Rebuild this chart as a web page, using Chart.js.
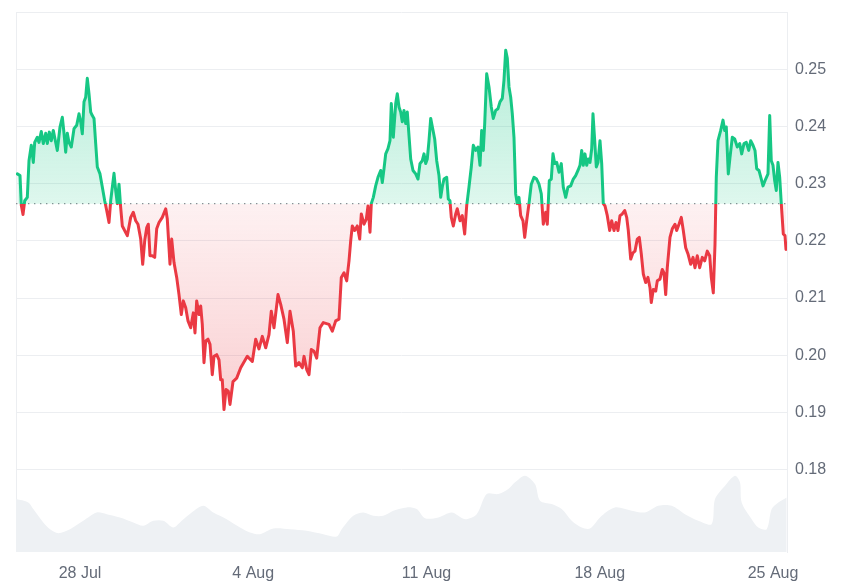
<!DOCTYPE html>
<html>
<head>
<meta charset="utf-8">
<script src="https://cdn.jsdelivr.net/npm/chart.js@4.4.1/dist/chart.umd.min.js"></script>
<style>
  html, body { margin: 0; padding: 0; background: #fff; }
  #wrap { width: 850px; height: 584px; position: relative; }
</style>
</head>
<body>
<div id="wrap"><canvas id="priceChart"></canvas></div>
<script>
// days counted from 28 Jul 00:00
const priceTimes = [
  -2.533, -2.424, -2.372, -2.303, -2.234, -2.129, -2.061, -1.968, -1.887, -1.830, -1.725, -1.657, -1.564, -1.483, -1.386, -1.321, -1.240, -1.160, -1.079, -0.982, -0.917, -0.808, -0.715, -0.646, -0.578, -0.513, -0.444, -0.352, -0.242, -0.133, -0.040, 0.028, 0.093, 0.162, 0.230, 0.295, 0.364, 0.432, 0.497, 0.566, 0.634, 0.699, 0.808, 0.901, 0.998, 1.079, 1.172, 1.240, 1.374, 1.442, 1.507, 1.576, 1.644, 1.709,
  1.911, 2.048, 2.154, 2.251, 2.343, 2.453, 2.533, 2.614, 2.695, 2.760, 2.828, 2.921, 3.018, 3.099, 3.192, 3.325, 3.463, 3.527, 3.636, 3.705, 3.798, 3.907, 4.000, 4.093, 4.174, 4.271, 4.364, 4.473, 4.578, 4.646, 4.715, 4.808, 4.877, 4.941, 5.010, 5.079, 5.172, 5.253, 5.345, 5.414, 5.523, 5.616, 5.685, 5.749, 5.818, 5.899, 5.992, 6.061, 6.182, 6.331,
  6.493, 6.760, 6.962, 7.099, 7.232, 7.366, 7.503, 7.636, 7.729, 7.838, 8.000, 8.109, 8.242, 8.376, 8.485, 8.618, 8.715, 8.848, 8.982, 9.051, 9.160, 9.253, 9.346, 9.455, 9.564, 9.697, 9.830, 10.061, 10.194, 10.331, 10.465, 10.558, 10.667,
  10.776, 10.869, 10.937, 11.002, 11.099, 11.204, 11.301, 11.366, 11.475, 11.568, 11.636, 11.717, 11.770, 11.851, 11.947, 12.040, 12.149, 12.214, 12.283, 12.352, 12.444, 12.525, 12.578, 12.659, 12.756, 12.820, 12.889, 12.958, 13.022, 13.091, 13.160, 13.224, 13.293, 13.362, 13.455, 13.564, 13.657, 13.737, 13.830, 13.899, 13.968, 14.032, 14.101, 14.170, 14.251, 14.331, 14.412, 14.505, 14.574, 14.638, 14.707, 14.816, 14.881, 14.949, 15.002, 15.083, 15.180,
  15.244, 15.354, 15.446, 15.543, 15.624, 15.717, 15.810, 15.891, 15.988, 16.081, 16.162, 16.230, 16.295, 16.352, 16.432, 16.525, 16.618, 16.699, 16.796, 16.889, 16.970, 17.063, 17.131, 17.200, 17.265, 17.333, 17.402, 17.467, 17.535, 17.604, 17.669, 17.737, 17.806, 17.899, 17.968, 18.048, 18.141, 18.234, 18.343, 18.448, 18.545, 18.638, 18.719, 18.816, 18.881, 18.962, 19.042, 19.111, 19.180, 19.261, 19.354, 19.446, 19.527, 19.624,
  19.717, 19.826, 19.931, 20.028, 20.121, 20.202, 20.271, 20.335, 20.404, 20.473, 20.537, 20.606, 20.675, 20.727, 20.796, 20.861, 20.929, 21.010, 21.079, 21.143, 21.212, 21.305, 21.402, 21.483, 21.576, 21.657, 21.737, 21.818, 21.911, 22.008, 22.089, 22.154, 22.251, 22.343, 22.424, 22.517, 22.598, 22.679, 22.760, 22.857, 22.949, 23.030, 23.083, 23.164, 23.261, 23.325, 23.434, 23.527, 23.596, 23.665, 23.729, 23.838, 23.931, 24.040,
  24.109, 24.202, 24.295, 24.376, 24.473, 24.566, 24.675, 24.768, 24.848, 24.941, 25.038, 25.143, 25.240, 25.345, 25.442, 25.507, 25.588, 25.657, 25.709, 25.778, 25.887, 25.980, 26.048, 26.113, 26.194, 26.263, 26.356, 26.453, 26.558, 26.655, 26.735, 26.828, 26.921, 27.018, 27.099, 27.192, 27.273, 27.341, 27.434, 27.527, 27.596, 27.705, 27.798, 27.867, 27.931, 28.000, 28.069, 28.133, 28.202, 28.271, 28.335, 28.416, 28.485, 28.525
];
const priceValues = [
  0.2317, 0.2314, 0.2262, 0.2246, 0.2270, 0.2276, 0.2340, 0.2367, 0.2337, 0.2372, 0.2381, 0.2372, 0.2391, 0.2370, 0.2388, 0.2370, 0.2390, 0.2375, 0.2393, 0.2372, 0.2358, 0.2399, 0.2416, 0.2388, 0.2355, 0.2388, 0.2372, 0.2364, 0.2396, 0.2402, 0.2422, 0.2408, 0.2387, 0.2443, 0.2451, 0.2484, 0.2457, 0.2425, 0.2419, 0.2414, 0.2370, 0.2329, 0.2317, 0.2294, 0.2270, 0.2253, 0.2232, 0.2270, 0.2318, 0.2288, 0.2265, 0.2299, 0.2258, 0.2226,
  0.2209, 0.2241, 0.2250, 0.2235, 0.2229, 0.2203, 0.2159, 0.2200, 0.2223, 0.2229, 0.2174, 0.2174, 0.2171, 0.2221, 0.2232, 0.2241, 0.2256, 0.2238, 0.2159, 0.2203, 0.2162, 0.2136, 0.2106, 0.2071, 0.2095, 0.2083, 0.2060, 0.2048, 0.2074, 0.2039, 0.2095, 0.2071, 0.2086, 0.2054, 0.1987, 0.2025, 0.2028, 0.2019, 0.1966, 0.1998, 0.2001, 0.1992, 0.1957, 0.1957, 0.1905, 0.1940, 0.1937, 0.1914, 0.1954, 0.1960,
  0.1978, 0.1998, 0.1989, 0.2028, 0.2011, 0.2033, 0.2013, 0.2036, 0.2077, 0.2048, 0.2106, 0.2089, 0.2063, 0.2022, 0.2077, 0.2042, 0.1981, 0.1987, 0.1978, 0.1998, 0.1975, 0.1966, 0.2010, 0.2007, 0.1995, 0.2048, 0.2057, 0.2054, 0.2042, 0.2060, 0.2063, 0.2136, 0.2144,
  0.2130, 0.2165, 0.2200, 0.2226, 0.2218, 0.2226, 0.2203, 0.2247, 0.2229, 0.2238, 0.2261, 0.2215, 0.2265, 0.2276, 0.2296, 0.2311, 0.2323, 0.2302, 0.2326, 0.2352, 0.2361, 0.2375, 0.2440, 0.2381, 0.2440, 0.2457, 0.2434, 0.2425, 0.2408, 0.2428, 0.2405, 0.2425, 0.2384, 0.2343, 0.2323, 0.2317, 0.2308, 0.2335, 0.2340, 0.2352, 0.2335, 0.2343, 0.2375, 0.2414, 0.2396, 0.2378, 0.2340, 0.2314, 0.2276, 0.2294, 0.2308, 0.2311, 0.2273, 0.2270, 0.2241, 0.2226, 0.2247,
  0.2256, 0.2235, 0.2244, 0.2212, 0.2261, 0.2294, 0.2329, 0.2367, 0.2358, 0.2364, 0.2332, 0.2393, 0.2358, 0.2405, 0.2492, 0.2469, 0.2434, 0.2414, 0.2428, 0.2431, 0.2443, 0.2449, 0.2481, 0.2533, 0.2519, 0.2469, 0.2451, 0.2422, 0.2381, 0.2282, 0.2265, 0.2276, 0.2244, 0.2235, 0.2206, 0.2235, 0.2265, 0.2299, 0.2311, 0.2308, 0.2299, 0.2282, 0.2229, 0.2250, 0.2229, 0.2305, 0.2308, 0.2352, 0.2335, 0.2337, 0.2320, 0.2335, 0.2294, 0.2276,
  0.2294, 0.2296, 0.2308, 0.2314, 0.2323, 0.2332, 0.2358, 0.2332, 0.2352, 0.2332, 0.2343, 0.2337, 0.2361, 0.2422, 0.2375, 0.2329, 0.2337, 0.2375, 0.2335, 0.2265, 0.2261, 0.2244, 0.2218, 0.2235, 0.2218, 0.2232, 0.2218, 0.2244, 0.2247, 0.2253, 0.2241, 0.2218, 0.2168, 0.2179, 0.2182, 0.2203, 0.2206, 0.2177, 0.2142, 0.2127, 0.2136, 0.2118, 0.2092, 0.2115, 0.2112, 0.2130, 0.2133, 0.2150, 0.2144, 0.2106, 0.2153, 0.2206, 0.2221, 0.2229,
  0.2218, 0.2229, 0.2241, 0.2218, 0.2188, 0.2177, 0.2159, 0.2171, 0.2153, 0.2174, 0.2153, 0.2171, 0.2165, 0.2182, 0.2174, 0.2136, 0.2109, 0.2194, 0.2311, 0.2375, 0.2393, 0.2411, 0.2393, 0.2399, 0.2317, 0.2346, 0.2381, 0.2378, 0.2364, 0.2370, 0.2352, 0.2370, 0.2372, 0.2358, 0.2375, 0.2367, 0.2358, 0.2326, 0.2323, 0.2308, 0.2296, 0.2308, 0.2317, 0.2419, 0.2340, 0.2332, 0.2305, 0.2288, 0.2337, 0.2311, 0.2265, 0.2212, 0.2209, 0.2185
];
const basePrice = 0.2265;

const volumeTimes = [
  -2.586, -2.089, -1.887, -1.483, -1.212, -0.877, -0.404, 0.133, 0.675, 1.079, 1.616, 2.154, 2.558, 2.962, 3.366, 3.770, 4.109, 4.513, 4.982, 5.386, 5.927, 6.465, 6.869, 7.273, 7.810, 8.485, 9.160, 9.830, 10.372, 10.574, 11.042, 11.446, 11.850, 12.255, 12.659, 13.200, 13.604, 13.939, 14.477, 15.018, 15.556, 16.028, 16.432, 16.901, 17.305, 17.576, 17.980, 18.384, 18.586, 19.059, 19.463, 19.867, 20.271, 20.606, 21.079, 21.616, 22.291, 22.828, 23.366, 23.907, 24.444, 24.982, 25.519, 25.657, 26.061, 26.465, 26.667, 26.735, 27.139, 27.406, 27.745, 27.947, 28.214, 28.554
];
// volume, millions
const volumeValues = [
  52.8, 49.5, 42.8, 29.5, 22.8, 18.8, 22.8, 31.2, 39.5, 37.8, 34.5, 29.5, 26.2, 31.2, 31.2, 24.5, 31.2, 39.5, 46.2, 39.5, 32.8, 24.5, 19.5, 17.8, 23.5, 22.8, 21.2, 17.8, 15.5, 22.8, 36.2, 39.5, 36.2, 36.2, 41.2, 44.5, 42.8, 33.7, 34.5, 39.5, 32.8, 37.8, 57.8, 57.8, 62.8, 69.5, 76.2, 67.8, 51.2, 47.8, 42.8, 31.2, 24.5, 23.5, 36.2, 44.5, 41.2, 39.5, 46.2, 46.2, 37.8, 31.2, 27.8, 52.8, 66.2, 76.2, 69.5, 49.5, 32.8, 24.5, 22.8, 42.8, 49.5, 54.5
];

const xTickDays = [0, 7, 14, 21, 28];
const xTickLabels = ['28 Jul', '4 Aug', '11 Aug', '18 Aug', '25 Aug'];
const yTickValues = [0.18, 0.19, 0.20, 0.21, 0.22, 0.23, 0.24, 0.25, 0.26];
const yTickLabels = ['0.18', '0.19', '0.20', '0.21', '0.22', '0.23', '0.24', '0.25', ''];

const GREEN = '#16c784';
const RED = '#ea3943';
const GRID = '#eceef1';

Chart.defaults.font.family = "'Liberation Sans', Arial, sans-serif";
Chart.defaults.font.size = 16;
Chart.defaults.color = '#646b78';

function baseStop(chart) {
    const a = chart.chartArea;
    const yb = chart.scales.y.getPixelForValue(basePrice);
    return Math.min(1, Math.max(0, (yb - a.top) / (a.bottom - a.top)));
}

function lineGradient(ctx) {
    const chart = ctx.chart;
    const a = chart.chartArea;
    if (!a) return GREEN;
    const s = baseStop(chart);
    const g = chart.ctx.createLinearGradient(0, a.top, 0, a.bottom);
    g.addColorStop(0, GREEN);
    g.addColorStop(s, GREEN);
    g.addColorStop(s, RED);
    g.addColorStop(1, RED);
    return g;
}

function fillGradient(ctx) {
    const chart = ctx.chart;
    const a = chart.chartArea;
    if (!a) return 'rgba(22,199,132,0.15)';
    const s = baseStop(chart);
    const g = chart.ctx.createLinearGradient(0, a.top, 0, a.bottom);
    g.addColorStop(0, 'rgba(22,199,132,0.36)');
    g.addColorStop(s, 'rgba(22,199,132,0.14)');
    g.addColorStop(s, 'rgba(234,57,67,0.07)');
    g.addColorStop(1, 'rgba(234,57,67,0.36)');
    return g;
}

// thin frame line on the left edge of the plot
const leftEdge = {
    id: 'leftEdge',
    beforeDatasetsDraw(chart) {
        const { ctx, chartArea: a } = chart;
        ctx.save();
        ctx.strokeStyle = GRID;
        ctx.lineWidth = 1;
        ctx.beginPath();
        ctx.moveTo(a.left + 0.5, a.top);
        ctx.lineTo(a.left + 0.5, a.bottom);
        ctx.stroke();
        ctx.restore();
    }
};

new Chart(document.getElementById('priceChart'), {
    type: 'line',
    data: {
        datasets: [
            {
                label: 'Price',
                data: priceTimes.map((t, i) => ({ x: t, y: priceValues[i] })),
                borderColor: lineGradient,
                backgroundColor: fillGradient,
                fill: { target: { value: basePrice } },
                borderWidth: 3,
                borderJoinStyle: 'round',
                borderCapStyle: 'round',
                pointRadius: 0,
                tension: 0,
                order: 1
            },
            {
                label: 'Start',
                data: [{ x: -2.586, y: basePrice }, { x: 28.566, y: basePrice }],
                borderColor: '#8c8f96',
                borderWidth: 1.4,
                borderDash: [1.4, 4.6],
                pointRadius: 0,
                fill: false,
                order: 2
            },
            {
                label: 'Volume',
                data: volumeTimes.map((t, i) => ({ x: t, y: volumeValues[i] })),
                yAxisID: 'yv',
                borderWidth: 0,
                borderColor: 'rgba(0,0,0,0)',
                backgroundColor: '#eef1f4',
                fill: 'origin',
                pointRadius: 0,
                tension: 0.3,
                order: 3
            }
        ]
    },
    options: {
        responsive: true,
        maintainAspectRatio: false,
        animation: false,
        layout: { padding: { left: 16, top: 12, right: 0, bottom: 0 } },
        plugins: {
            legend: { display: false },
            title: { display: false },
            tooltip: { enabled: false }
        },
        scales: {
            x: {
                type: 'linear',
                min: -2.586,
                max: 28.566,
                afterBuildTicks: axis => { axis.ticks = xTickDays.map(v => ({ value: v })); },
                afterFit: axis => {
                    axis.height = 32;
                    axis.paddingLeft = 0;
                    axis.paddingRight = 0;
                },
                grid: { display: false, drawTicks: false },
                border: { display: false },
                ticks: {
                    autoSkip: false,
                    maxRotation: 0,
                    padding: 12,
                    callback: (v, i) => xTickLabels[i]
                }
            },
            y: {
                position: 'right',
                min: 0.1656,
                max: 0.26,
                afterBuildTicks: axis => { axis.ticks = yTickValues.map(v => ({ value: v })); },
                afterFit: axis => {
                    axis.width = 63;
                    axis.paddingTop = 0;
                    axis.paddingBottom = 0;
                },
                grid: { color: GRID, drawTicks: false },
                border: { display: true, color: GRID },
                ticks: {
                    padding: 8,
                    callback: (v, i) => yTickLabels[i]
                }
            },
            yv: {
                display: false,
                min: 0,
                max: 539
            }
        }
    },
    plugins: [leftEdge]
});
</script>
</body>
</html>
